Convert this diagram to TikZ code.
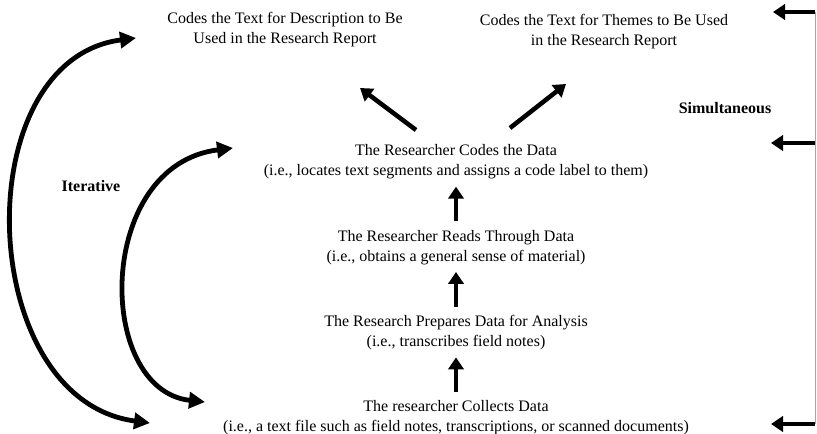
\documentclass[tikz,border=0pt]{standalone}
\usepackage{fontspec}
\setmainfont{Liberation Serif}
\usetikzlibrary{arrows.meta,positioning}

\begin{document}
\begin{tikzpicture}[
      x=0.75pt, y=-0.75pt,
      node distance=64pt,
      txt/.style={align=center,font=\fontsize{12}{15}\selectfont},
      lbl/.style={font=\fontsize{12}{15}\selectfont\bfseries},
      fat/.style={line width=3.4pt,-{Triangle[length=9pt,width=11.5pt]}},
      loop/.style={line width=3.6pt,{Triangle[length=12pt,width=12pt]}-{Triangle[length=12pt,width=12pt]}},
      >=Latex
    ]
    \useasboundingbox (0,0) rectangle (817,434);

    \node[txt] (desc) at (285,30) {Codes the Text for Description to Be\\Used in the Research Report};
    \node[txt] (theme) at (604,32) {Codes the Text for Themes to Be Used\\in the Research Report};
    \node[txt] (code) at (456,162) {The Researcher Codes the Data\\(i.e., locates text segments and assigns a code label to them)};
    \node[txt,below of=code] (read) {The Researcher Reads Through Data\\(i.e., obtains a general sense of material)};
    \node[txt,below of=read] (prep) {The Research Prepares Data for Analysis\\(i.e., transcribes field notes)};
    \node[txt,below of=prep] (coll) {The researcher Collects Data\\(i.e., a text file such as field notes, transcriptions, or scanned documents)};
    \node[lbl] (iter) at (91,186) {Iterative};
    \node[lbl] (simul) at (725,108) {Simultaneous};

    % steps upward
    \draw[fat,shorten <=3pt,shorten >=2pt] (read) -- (code);
    \draw[fat,shorten <=3pt,shorten >=2pt] (prep) -- (read);
    \draw[fat,shorten <=3pt,shorten >=2pt] (coll) -- (prep);

    % out to the two kinds of codes
    \coordinate (codeL) at (416,130);
    \coordinate (codeR) at (510,128);
    \coordinate (descIn) at (360,88);
    \coordinate (themeIn) at (566,84);
    \draw[fat] (codeL) -- (descIn);
    \draw[fat] (codeR) -- (themeIn);

    % iterative loops
    \coordinate (collOut) at (150,423);
    \coordinate (descOut) at (136,38);
    \coordinate (collIn) at (205,402);
    \coordinate (codeIn) at (233,148);
    \draw[loop] (collOut) .. controls (-25,400) and (-35,60) .. (descOut);
    \draw[loop] (collIn) .. controls (95,390) and (95,165) .. (codeIn);

    % simultaneous bracket
    \coordinate (top) at (815,12);
    \coordinate (mid) at (815,143);
    \coordinate (bot) at (815,424);
    \draw[gray!70,line width=0.6pt] (top) -- (bot);
    \draw[fat] (top) -- ++(-42,0);
    \draw[fat] (mid) -- ++(-44,0);
    \draw[fat] (bot) -- ++(-44,0);
  \end{tikzpicture}
\end{document}
